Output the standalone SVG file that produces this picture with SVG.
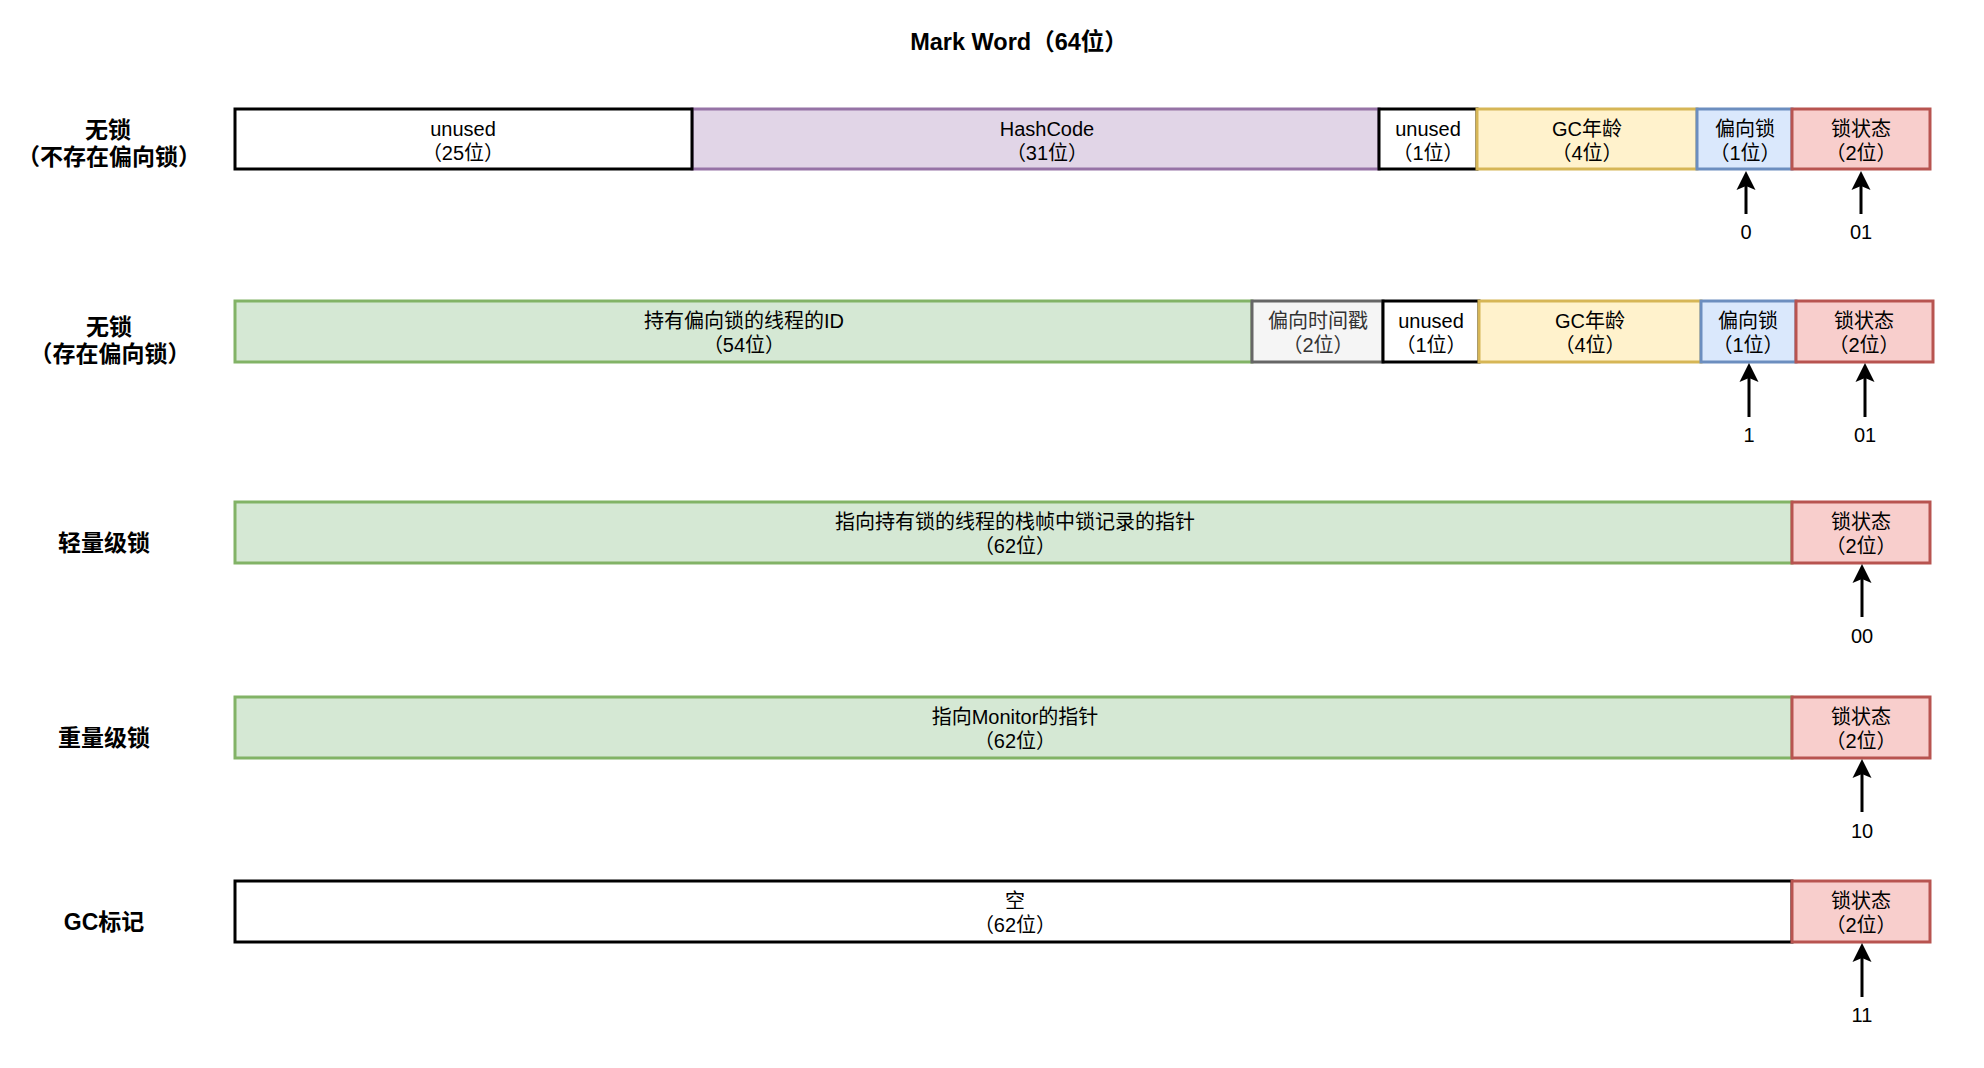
<svg xmlns="http://www.w3.org/2000/svg" width="1984" height="1068" viewBox="0 0 1984 1068">
<style>
text { font-family: "Liberation Sans", "Noto Sans CJK SC", sans-serif; fill: #000; text-anchor: middle; }
.t { font-size: 20px; }
.g { fill: #333333; }
.lbl { font-size: 23px; font-weight: bold; }
.title { font-size: 23.5px; font-weight: bold; }
rect { stroke-width: 3; }
.wh { fill: #ffffff; stroke: #000000; }
.pu { fill: #e1d5e7; stroke: #9673a6; }
.ye { fill: #fff2cc; stroke: #d6b656; }
.bl { fill: #dae8fc; stroke: #6c8ebf; }
.re { fill: #f8cecc; stroke: #b85450; }
.gr { fill: #d5e8d4; stroke: #82b366; }
.gy { fill: #f5f5f5; stroke: #666666; }
.conn line { stroke: #000; stroke-width: 3; marker-end: url(#arr); }
</style>
<defs>
<marker id="arr" markerUnits="userSpaceOnUse" markerWidth="20" markerHeight="20" viewBox="0 0 20 20" refX="4" refY="10" orient="auto">
<path d="M0,0.5 L19,10 L0,19.5 L4,10 Z" fill="#000"/>
</marker>
</defs>
<rect x="0" y="0" width="1984" height="1068" fill="#ffffff" stroke="none"/>
<text class="title" x="1019" y="50">Mark Word（64位）</text>

<g id="label-row1"><text class="lbl" x="108" y="138">无锁</text><text class="lbl" x="109" y="165">（不存在偏向锁）</text></g>
<g id="label-row2"><text class="lbl" x="109" y="335">无锁</text><text class="lbl" x="110" y="362">（存在偏向锁）</text></g>
<g id="label-row3"><text class="lbl" x="104" y="551">轻量级锁</text></g>
<g id="label-row4"><text class="lbl" x="104" y="746">重量级锁</text></g>
<g id="label-row5"><text class="lbl" x="104" y="930">GC标记</text></g>

<!-- Row 1 -->
<g id="r1-hash"><rect class="pu" x="692" y="109" width="687" height="60"/><text class="t" x="1047" y="136">HashCode</text><text class="t" x="1047" y="160">（31位）</text></g>
<g id="r1-unused25"><rect class="wh" x="235" y="109" width="457" height="60"/><text class="t" x="463" y="136">unused</text><text class="t" x="463" y="160">（25位）</text></g>
<g id="r1-unused1"><rect class="wh" x="1379" y="109" width="98" height="60"/><text class="t" x="1428" y="136">unused</text><text class="t" x="1428" y="160">（1位）</text></g>
<g id="r1-gc"><rect class="ye" x="1477" y="109" width="220" height="60"/><text class="t" x="1587" y="136">GC年龄</text><text class="t" x="1587" y="160">（4位）</text></g>
<g id="r1-biased"><rect class="bl" x="1697" y="109" width="95" height="60"/><text class="t" x="1745" y="136">偏向锁</text><text class="t" x="1745" y="160">（1位）</text></g>
<g id="r1-state"><rect class="re" x="1792" y="109" width="138" height="60"/><text class="t" x="1861" y="136">锁状态</text><text class="t" x="1861" y="160">（2位）</text></g>

<!-- Row 2 -->
<g id="r2-thread"><rect class="gr" x="235" y="301" width="1017" height="61"/><text class="t" x="744" y="328">持有偏向锁的线程的ID</text><text class="t" x="744" y="352">（54位）</text></g>
<g id="r2-epoch"><rect class="gy" x="1252" y="301" width="131" height="61"/><text class="t g" x="1318" y="328">偏向时间戳</text><text class="t g" x="1318" y="352">（2位）</text></g>
<g id="r2-unused1"><rect class="wh" x="1383" y="301" width="96" height="61"/><text class="t" x="1431" y="328">unused</text><text class="t" x="1431" y="352">（1位）</text></g>
<g id="r2-gc"><rect class="ye" x="1479" y="301" width="222" height="61"/><text class="t" x="1590" y="328">GC年龄</text><text class="t" x="1590" y="352">（4位）</text></g>
<g id="r2-biased"><rect class="bl" x="1701" y="301" width="95" height="61"/><text class="t" x="1748" y="328">偏向锁</text><text class="t" x="1748" y="352">（1位）</text></g>
<g id="r2-state"><rect class="re" x="1796" y="301" width="137" height="61"/><text class="t" x="1864" y="328">锁状态</text><text class="t" x="1864" y="352">（2位）</text></g>

<!-- Row 3 -->
<g id="r3-ptr"><rect class="gr" x="235" y="502" width="1557" height="61"/><text class="t" x="1015" y="529">指向持有锁的线程的栈帧中锁记录的指针</text><text class="t" x="1015" y="553">（62位）</text></g>
<g id="r3-state"><rect class="re" x="1792" y="502" width="138" height="61"/><text class="t" x="1861" y="529">锁状态</text><text class="t" x="1861" y="553">（2位）</text></g>

<!-- Row 4 -->
<g id="r4-ptr"><rect class="gr" x="235" y="697" width="1557" height="61"/><text class="t" x="1015" y="724">指向Monitor的指针</text><text class="t" x="1015" y="748">（62位）</text></g>
<g id="r4-state"><rect class="re" x="1792" y="697" width="138" height="61"/><text class="t" x="1861" y="724">锁状态</text><text class="t" x="1861" y="748">（2位）</text></g>

<!-- Row 5 -->
<g id="r5-empty"><rect class="wh" x="235" y="881" width="1557" height="61"/><text class="t" x="1015" y="908">空</text><text class="t" x="1015" y="932">（62位）</text></g>
<g id="r5-state"><rect class="re" x="1792" y="881" width="138" height="61"/><text class="t" x="1861" y="908">锁状态</text><text class="t" x="1861" y="932">（2位）</text></g>

<g id="connectors" class="conn">
<line x1="1746" y1="214" x2="1746" y2="186"/>
<line x1="1861" y1="214" x2="1861" y2="186"/>
<line x1="1749" y1="417" x2="1749" y2="378"/>
<line x1="1865" y1="417" x2="1865" y2="378"/>
<line x1="1862" y1="617" x2="1862" y2="579"/>
<line x1="1862" y1="812" x2="1862" y2="774"/>
<line x1="1862" y1="997" x2="1862" y2="958"/>
</g>

<g id="values">
<text class="t" x="1746" y="239">0</text>
<text class="t" x="1861" y="239">01</text>
<text class="t" x="1749" y="442">1</text>
<text class="t" x="1865" y="442">01</text>
<text class="t" x="1862" y="643">00</text>
<text class="t" x="1862" y="838">10</text>
<text class="t" x="1862" y="1022">11</text>
</g>
</svg>
